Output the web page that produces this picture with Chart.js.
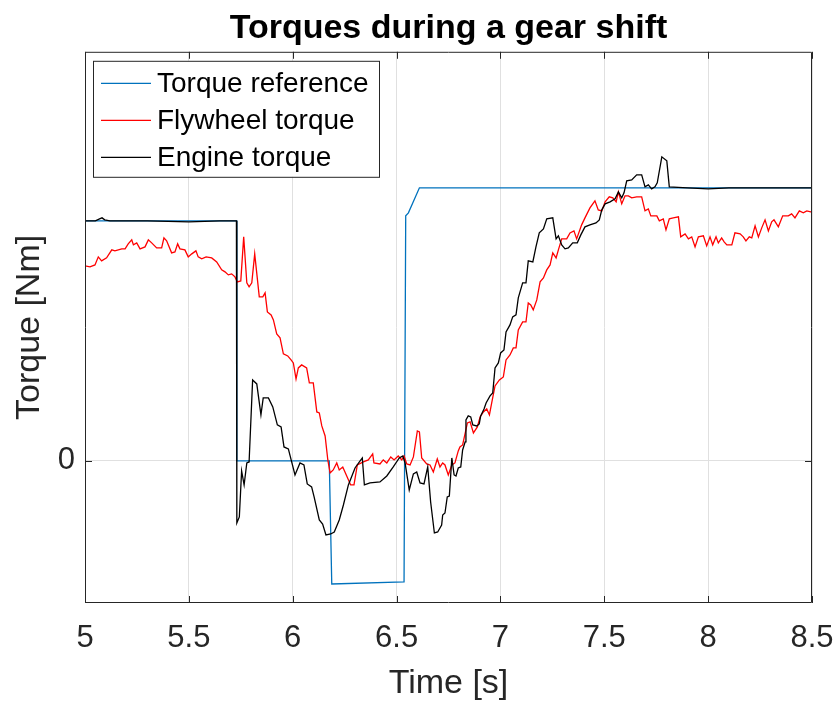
<!DOCTYPE html>
<html>
<head>
<meta charset="utf-8">
<title>Torques during a gear shift</title>
<script src="https://cdn.jsdelivr.net/npm/chart.js@4"></script>
<style>
  html, body { margin: 0; padding: 0; background: #fff; }
  #wrap { width: 834px; height: 702px; }
</style>
</head>
<body>
<div id="wrap"><canvas id="torqueChart" width="834" height="702"></canvas></div>
<script>
// Torque reference (controller setpoint)
const refTime   = [5.000, 5.730, 5.731, 6.176, 6.188, 6.536, 6.538, 6.544, 6.557, 6.610, 8.500];
const refTorque = [240, 240, 0, 0, -123, -121, -121, 245, 248, 273, 273];

// Measured flywheel torque
const flyTime = [
  5.000, 5.024, 5.048, 5.064, 5.080, 5.104, 5.129, 5.144, 5.177, 5.193, 5.208, 5.225, 5.233, 5.249,
  5.265, 5.289, 5.305, 5.321, 5.345, 5.369, 5.380, 5.393, 5.417, 5.433, 5.446, 5.457, 5.481, 5.497,
  5.514, 5.534, 5.545, 5.562, 5.583, 5.610, 5.634, 5.658, 5.674, 5.690, 5.706, 5.722, 5.733, 5.750,
  5.764, 5.779, 5.790, 5.803, 5.817, 5.839, 5.856, 5.867, 5.878, 5.896, 5.907, 5.923, 5.939, 5.955,
  5.976, 5.992, 6.003, 6.016, 6.027, 6.043, 6.067, 6.080, 6.099, 6.116, 6.128, 6.140, 6.156, 6.169,
  6.180, 6.195, 6.212, 6.224, 6.241, 6.260, 6.279, 6.295, 6.311, 6.340, 6.364, 6.385, 6.391, 6.420,
  6.436, 6.453, 6.472, 6.488, 6.508, 6.525, 6.536, 6.549, 6.565, 6.581, 6.600, 6.610, 6.621, 6.645,
  6.661, 6.677, 6.696, 6.709, 6.722, 6.733, 6.749, 6.766, 6.781, 6.797, 6.805, 6.818, 6.841, 6.854,
  6.870, 6.889, 6.902, 6.918, 6.934, 6.947, 6.958, 6.974, 6.995, 7.014, 7.027, 7.046, 7.062, 7.075,
  7.086, 7.107, 7.123, 7.134, 7.146, 7.158, 7.175, 7.191, 7.207, 7.223, 7.239, 7.252, 7.268, 7.279,
  7.295, 7.319, 7.335, 7.354, 7.367, 7.391, 7.407, 7.431, 7.455, 7.471, 7.488, 7.504, 7.524, 7.541,
  7.557, 7.568, 7.584, 7.600, 7.616, 7.632, 7.656, 7.680, 7.696, 7.712, 7.724, 7.753, 7.765, 7.784,
  7.797, 7.813, 7.832, 7.857, 7.868, 7.889, 7.905, 7.921, 7.937, 7.953, 7.977, 7.993, 8.009, 8.022,
  8.038, 8.049, 8.065, 8.077, 8.090, 8.114, 8.129, 8.154, 8.169, 8.182, 8.198, 8.210, 8.226, 8.242,
  8.258, 8.274, 8.290, 8.306, 8.317, 8.338, 8.359, 8.386, 8.402, 8.418, 8.439, 8.458, 8.475, 8.494,
  8.500
];
const flyTorque = [
  195, 194, 196, 204, 200, 203, 211, 210, 212, 212, 217, 221, 216, 218,
  212, 214, 221, 218, 213, 213, 223, 220, 208, 209, 217, 212, 211, 204,
  207, 210, 204, 202, 204, 203, 199, 191, 189, 186, 187, 184, 179, 180,
  224, 178, 174, 178, 207, 164, 164, 168, 149, 146, 141, 127, 123, 107,
  105, 101, 98, 82, 93, 96, 93, 78, 78, 49, 48, 35, 25, 1,
  -12, -9, -2, -9, -6, -15, -24, -24, -4, -1, 1, 7, -2, -3,
  1, -2, 4, 1, 5, 1, 5, -3, -4, 4, 30, 29, 3, -3,
  -4, -11, 2, -6, -2, -4, -14, -4, -2, 10, 14, 16, 38, 39,
  28, 34, 44, 49, 52, 46, 58, 75, 81, 84, 101, 106, 113, 113,
  131, 139, 139, 158, 156, 151, 161, 179, 183, 191, 196, 208, 203, 211,
  222, 222, 228, 230, 222, 236, 243, 253, 260, 251, 250, 259, 264, 263,
  259, 269, 257, 265, 265, 263, 264, 264, 250, 252, 245, 245, 240, 242,
  231, 242, 243, 244, 224, 227, 222, 224, 214, 224, 225, 215, 224, 216,
  224, 218, 223, 219, 216, 216, 228, 227, 224, 220, 224, 223, 235, 224,
  233, 241, 230, 239, 241, 234, 245, 245, 247, 243, 250, 248, 250, 249,
  249
];

// Measured engine torque
const engTime = [
  5.000, 5.050, 5.070, 5.082, 5.095, 5.120, 5.300, 5.500, 5.650, 5.729, 5.731, 5.743, 5.754, 5.766,
  5.779, 5.790, 5.807, 5.827, 5.847, 5.858, 5.883, 5.904, 5.926, 5.944, 5.958, 5.979, 6.011, 6.035,
  6.054, 6.070, 6.091, 6.103, 6.128, 6.144, 6.160, 6.183, 6.200, 6.224, 6.244, 6.268, 6.300, 6.321,
  6.335, 6.345, 6.372, 6.420, 6.453, 6.484, 6.513, 6.530, 6.541, 6.561, 6.581, 6.597, 6.613, 6.632,
  6.650, 6.664, 6.682, 6.698, 6.717, 6.722, 6.733, 6.744, 6.754, 6.766, 6.777, 6.786, 6.797, 6.809,
  6.818, 6.830, 6.834, 6.845, 6.857, 6.867, 6.886, 6.898, 6.905, 6.921, 6.931, 6.950, 6.963, 6.974,
  6.990, 7.001, 7.017, 7.027, 7.046, 7.059, 7.075, 7.086, 7.107, 7.123, 7.134, 7.156, 7.171, 7.187,
  7.207, 7.223, 7.252, 7.268, 7.279, 7.295, 7.311, 7.327, 7.348, 7.370, 7.387, 7.407, 7.431, 7.460,
  7.476, 7.488, 7.504, 7.528, 7.552, 7.568, 7.584, 7.595, 7.608, 7.632, 7.656, 7.680, 7.696, 7.712,
  7.728, 7.744, 7.755, 7.777, 7.801, 7.813, 7.900, 8.000, 8.100, 8.200, 8.300, 8.400, 8.500
];
const engTorque = [
  240, 240, 242, 243, 241, 240, 240, 239, 240, 240, -62, -56, -10, -24,
  -2, -1, 81, 77, 46, 63, 63, 54, 36, 34, 14, 12, -14, -2,
  -4, -23, -26, -36, -59, -63, -74, -73, -71, -59, -44, -24, -7, -1,
  3, -24, -22, -21, -15, -6, 3, 5, -2, -29, -13, -11, -22, -23,
  -6, -41, -72, -71, -64, -54, -52, -36, -35, 3, -14, -15, -7, -6,
  11, 19, 41, 45, 44, 36, 35, 37, 45, 52, 58, 65, 68, 93,
  98, 108, 111, 129, 136, 144, 146, 163, 178, 178, 200, 199, 214, 228,
  232, 242, 243, 222, 225, 216, 212, 213, 218, 218, 226, 234, 236, 238,
  241, 251, 257, 259, 262, 269, 263, 268, 280, 281, 286, 286, 274, 276,
  272, 274, 278, 304, 300, 274, 273, 272, 273, 273, 273, 273, 273
];

const seriesLabels = ['Torque reference', 'Flywheel torque', 'Engine torque'];
const seriesColors = ['#0072BD', '#FF0000', '#000000'];

const xTicks = [5, 5.5, 6, 6.5, 7, 7.5, 8, 8.5];
const yTicks = [0];
const xRange = [5, 8.5];
const yRange = [-142, 409];

const FONT = "'Liberation Sans', Arial, Helvetica, sans-serif";
const AXIS_COLOR = '#262626';

function toPoints(ts, vs) {
  return ts.map((t, i) => ({ x: t, y: vs[i] }));
}

// MATLAB-style box: full frame plus inward tick marks
const boxFrame = {
  id: 'boxFrame',
  afterDatasetsDraw(chart) {
    const { ctx, chartArea: a, scales } = chart;
    const tl = 7;
    ctx.save();
    ctx.strokeStyle = AXIS_COLOR;
    ctx.lineWidth = 1;
    ctx.beginPath();
    ctx.rect(a.left + 0.5, a.top + 0.5, a.right - a.left - 1, a.bottom - a.top - 1);
    scales.x.ticks.forEach(t => {
      const px = Math.round(scales.x.getPixelForValue(t.value)) + 0.5;
      ctx.moveTo(px, a.bottom); ctx.lineTo(px, a.bottom - tl);
      ctx.moveTo(px, a.top);    ctx.lineTo(px, a.top + tl);
    });
    scales.y.ticks.forEach(t => {
      const py = Math.round(scales.y.getPixelForValue(t.value)) + 0.5;
      ctx.moveTo(a.left, py);  ctx.lineTo(a.left + tl, py);
      ctx.moveTo(a.right, py); ctx.lineTo(a.right - tl, py);
    });
    ctx.stroke();
    ctx.restore();
  }
};

// Boxed legend in the upper-left corner of the plot
const boxLegend = {
  id: 'boxLegend',
  afterDraw(chart) {
    const { ctx, chartArea: a } = chart;
    const x0 = a.left + 8, y0 = a.top + 9, w = 286, h = 116;
    const rowH = 37;
    ctx.save();
    ctx.fillStyle = '#fff';
    ctx.fillRect(x0, y0, w, h);
    ctx.strokeStyle = AXIS_COLOR;
    ctx.lineWidth = 1;
    ctx.strokeRect(x0 + 0.5, y0 + 0.5, w, h);
    ctx.font = '28px ' + FONT;
    ctx.textBaseline = 'middle';
    ctx.textAlign = 'left';
    chart.data.datasets.forEach((ds, i) => {
      const y = y0 + 22 + i * rowH;
      ctx.strokeStyle = ds.borderColor;
      ctx.lineWidth = 1.3;
      ctx.beginPath();
      ctx.moveTo(x0 + 8, y + 0.5);
      ctx.lineTo(x0 + 58, y + 0.5);
      ctx.stroke();
      ctx.fillStyle = '#000';
      ctx.fillText(ds.label, x0 + 64, y + 1);
    });
    ctx.restore();
  }
};

const chart = new Chart(document.getElementById('torqueChart').getContext('2d'), {
  type: 'line',
  data: {
    datasets: [
      { label: seriesLabels[0], data: toPoints(refTime, refTorque), borderColor: seriesColors[0], order: 3 },
      { label: seriesLabels[1], data: toPoints(flyTime, flyTorque), borderColor: seriesColors[1], order: 2 },
      { label: seriesLabels[2], data: toPoints(engTime, engTorque), borderColor: seriesColors[2], order: 1 }
    ]
  },
  options: {
    responsive: false,
    animation: false,
    events: [],
    layout: { padding: { left: 0, right: 22, top: 0, bottom: 0 } },
    elements: {
      line: { borderWidth: 1.3, tension: 0, fill: false },
      point: { radius: 0 }
    },
    plugins: {
      legend: { display: false },
      tooltip: { enabled: false },
      title: {
        display: true,
        text: 'Torques during a gear shift',
        fullSize: false,
        color: '#000',
        font: { family: FONT, size: 34, weight: 'bold' },
        padding: { top: 8, bottom: 3 }
      }
    },
    scales: {
      x: {
        type: 'linear',
        min: xRange[0], max: xRange[1],
        afterBuildTicks: s => { s.ticks = xTicks.map(v => ({ value: v })); },
        afterFit: s => { s.height = 99; s.paddingLeft = 0; s.paddingRight = 0; },
        grid: { color: '#e0e0e0', lineWidth: 1, drawTicks: false },
        border: { display: false },
        ticks: {
          color: AXIS_COLOR, padding: 17, maxRotation: 0, autoSkip: false,
          font: { family: FONT, size: 31 },
          callback: v => String(v)
        },
        title: {
          display: true, text: 'Time [s]', color: AXIS_COLOR,
          font: { family: FONT, size: 34 },
          padding: { top: 0, bottom: -2 }
        }
      },
      y: {
        type: 'linear',
        min: yRange[0], max: yRange[1],
        afterBuildTicks: s => { s.ticks = yTicks.map(v => ({ value: v })); },
        afterFit: s => { s.width = 85; s.paddingTop = 0; s.paddingBottom = 0; },
        grid: { color: '#e0e0e0', lineWidth: 1, drawTicks: false },
        border: { display: false },
        ticks: {
          color: AXIS_COLOR, padding: 10,
          font: { family: FONT, size: 31 },
          callback: v => String(v)
        },
        title: {
          display: true, text: 'Torque [Nm]', color: AXIS_COLOR,
          font: { family: FONT, size: 34 },
          padding: { top: 9, bottom: 0 }
        }
      }
    }
  },
  plugins: [boxFrame, boxLegend]
});
</script>
</body>
</html>
